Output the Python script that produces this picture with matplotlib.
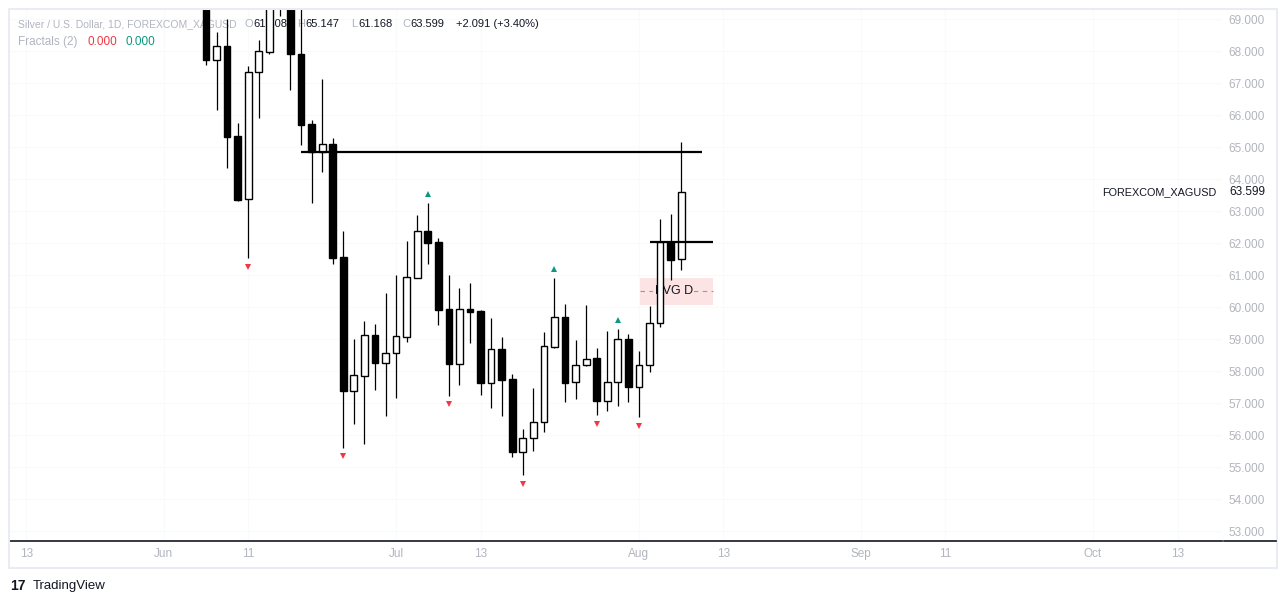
import matplotlib
matplotlib.use("Agg")
import matplotlib.pyplot as plt
from matplotlib.patches import Rectangle
from matplotlib.lines import Line2D
from matplotlib.transforms import ScaledTranslation, blended_transform_factory

# daily OHLC, bar index 0 = first visible candle
opens = [69.8, 67.72, 68.16, 65.34, 63.37, 67.34, 67.97, 69.9, 70.1, 67.9,
         65.72, 64.84, 65.09, 61.56, 57.37, 57.84, 59.12, 58.25, 58.56, 59.06,
         60.91, 62.37, 62.03, 59.94, 58.22, 59.94, 59.87, 57.62, 58.69, 57.75,
         55.47, 55.91, 56.41, 58.75, 59.69, 57.66, 58.19, 58.4, 57.06, 57.66,
         59.0, 57.5, 58.19, 59.5, 62.03, 61.508]
highs = [70.3, 68.6, 69.0, 65.75, 67.53, 68.34, 70.2, 70.8, 70.5, 69.6,
         65.84, 67.12, 65.28, 62.37, 59.0, 59.56, 59.47, 60.44, 61.0, 62.06,
         62.87, 63.25, 62.16, 61.0, 60.59, 60.75, 59.9, 59.66, 59.06, 57.9,
         56.19, 57.47, 59.22, 60.9, 60.09, 58.97, 60.06, 58.72, 59.25, 59.31,
         59.16, 58.62, 60.03, 62.75, 62.9, 65.147]
lows = [67.56, 66.16, 64.34, 63.3, 61.53, 65.9, 67.9, 69.1, 66.78, 65.06,
        63.25, 64.22, 61.34, 55.6, 56.34, 55.72, 57.4, 56.6, 57.16, 58.9,
        60.9, 61.34, 59.44, 57.22, 57.56, 58.87, 57.25, 56.84, 56.59, 55.31,
        54.75, 55.5, 56.09, 58.72, 57.03, 57.12, 58.15, 56.62, 56.75, 56.9,
        57.03, 56.56, 57.97, 59.37, 60.84, 61.168]
closes = [67.72, 68.16, 65.31, 63.34, 67.34, 68.0, 69.8, 70.4, 67.9, 65.69,
          64.84, 65.09, 61.53, 57.37, 57.87, 59.12, 58.25, 58.56, 59.09, 60.94,
          62.37, 62.0, 59.9, 58.22, 59.94, 59.84, 57.62, 58.69, 57.72, 55.47,
          55.91, 56.41, 58.78, 59.69, 57.62, 58.19, 58.37, 57.06, 57.66, 59.0,
          57.5, 58.19, 59.5, 62.03, 61.47, 63.599]

fractal_down = [4, 13, 23, 30, 37, 41]
fractal_up = [21, 33, 39]

# horizontal levels: (price, start bar, end bar)
levels = [(64.84, 9, 47), (62.03, 42, 48)]
fvg_top, fvg_bottom, fvg_start, fvg_end = 60.92, 60.06, 41.1, 48.0

date_ticks = [-17, -4, 4, 18, 26, 41, 49, 62, 70, 84, 92]
date_labels = ["13", "Jun", "11", "Jul", "13", "Aug", "13", "Sep", "11", "Oct", "13"]
price_ticks = list(range(53, 70))

W, H = 1286, 604
GREY = "#b2b5be"
DARK = "#131722"
plt.rcParams['font.family'] = ['Liberation Sans', 'DejaVu Sans']

fig = plt.figure(figsize=(W / 100, H / 100), dpi=100)
fig.patch.set_facecolor("white")
ax = fig.add_axes([10 / W, 1 - 541 / H, (1222 - 10) / W, (541 - 10) / H])
ax.set_xlim((10 - 206) / 10.56, (1222 - 206) / 10.56)
ax.set_ylim(69 - 522 / 32, 69 + 9 / 32)

# very faint grid
for p in price_ticks:
    ax.axhline(p, color="#f9fafc", lw=0.8, zorder=0)
for d in date_ticks:
    ax.axvline(d, color="#f9fafc", lw=0.8, zorder=0)

x = list(range(len(opens)))
ax.vlines(x, lows, highs, color="black", lw=0.9, zorder=3)
bottoms = [min(o, c) for o, c in zip(opens, closes)]
heights = [max(abs(c - o), 0.04) for o, c in zip(opens, closes)]
faces = ["white" if c >= o else "black" for o, c in zip(opens, closes)]
ax.bar(x, heights, bottom=bottoms, width=0.64, color=faces,
       edgecolor="black", linewidth=1.0, zorder=4)

# fractals
down_tr = ax.transData + ScaledTranslation(0, -0.085, fig.dpi_scale_trans)
up_tr = ax.transData + ScaledTranslation(0, 0.095, fig.dpi_scale_trans)
ax.plot(fractal_down, [lows[i] for i in fractal_down], "v", color="#f23645",
        ms=5, mew=0, transform=down_tr, zorder=5)
ax.plot(fractal_up, [highs[i] for i in fractal_up], "^", color="#089981",
        ms=5, mew=0, transform=up_tr, zorder=5)

# levels
for price, x0, x1 in levels:
    ax.hlines(price, x0, x1, color="black", lw=1.6, zorder=6)

# FVG box
ax.add_patch(Rectangle((fvg_start, fvg_bottom), fvg_end - fvg_start,
                       fvg_top - fvg_bottom, facecolor="#fce4e4",
                       edgecolor="none", zorder=1))
fvg_mid = (fvg_top + fvg_bottom) / 2
ax.hlines(fvg_mid, fvg_start, fvg_end, color="#9598a1", lw=0.8,
          linestyles=(0, (4, 4)), zorder=1.5)
ax.text(44.3, fvg_mid, "FVG D", ha="center", va="center", fontsize=9,
        color=DARK, zorder=2,
        bbox=dict(facecolor="#fce4e4", edgecolor="none", pad=1))

# axes styling
for s in ["top", "left", "right"]:
    ax.spines[s].set_visible(False)
ax.spines["bottom"].set_color(DARK)
ax.spines["bottom"].set_linewidth(1.2)
ax.set_xticks(date_ticks)
ax.set_xticklabels(date_labels)
ax.tick_params(axis="x", length=0, pad=5, labelsize=8.5, labelcolor=GREY)
ax.yaxis.tick_right()
ax.set_yticks(price_ticks)
ax.set_yticklabels([f"{p:.3f}" for p in price_ticks])
ax.tick_params(axis="y", length=0, pad=31, labelsize=8.5, labelcolor=GREY)
for lab in ax.get_yticklabels():
    lab.set_horizontalalignment("right")

# last price label
last_tr = blended_transform_factory(ax.transAxes, ax.transData)
ax.text(1.0, closes[-1], f"{closes[-1]:.3f}", ha="right", va="center",
        fontsize=8.5, color=DARK, clip_on=False,
        transform=last_tr + ScaledTranslation(0.43, 0, fig.dpi_scale_trans))
ax.text(1.0, closes[-1], "FOREXCOM_XAGUSD", ha="right", va="center",
        fontsize=7.8, color=DARK, clip_on=False,
        transform=last_tr + ScaledTranslation(-0.06, 0, fig.dpi_scale_trans))


# header, sits behind candles
def ftext(px, py, s, color, size=8):
    ax.text(px / W, 1 - py / H, s, transform=fig.transFigure, color=color,
            fontsize=size, va="center", ha="left", zorder=2, clip_on=False)


ftext(18, 24, "Silver / U.S. Dollar, 1D, FOREXCOM_XAGUSD", GREY, 7.5)
ftext(245, 24, "O", GREY)
ftext(253, 24, "61.508", DARK)
ftext(297, 24, "H", GREY)
ftext(305, 24, "65.147", DARK)
ftext(351, 24, "L", GREY)
ftext(358, 24, "61.168", DARK)
ftext(402, 24, "C", GREY)
ftext(410, 24, "63.599", DARK)
ftext(456, 24, "+2.091 (+3.40%)", DARK)
ftext(18, 42, "Fractals (2)", GREY, 8.5)
ftext(87, 42, "0.000", "#f23645", 8.5)
ftext(125, 42, "0.000", "#089981", 8.5)

# widget frame and scale border
fig.add_artist(Rectangle((9 / W, 1 - 568 / H), (1277 - 9) / W, (568 - 9) / H,
                         transform=fig.transFigure, facecolor="none",
                         edgecolor="#e9ecf2", lw=1.5))
fig.add_artist(Line2D([1224 / W, 1276 / W], [1 - 541 / H, 1 - 541 / H],
                      transform=fig.transFigure, color=DARK, lw=1.2))

# logo
fig.text(10 / W, 1 - 586 / H, "17", fontsize=10, fontweight="heavy",
         color=DARK, va="center", ha="left")
fig.text(33 / W, 1 - 586 / H, "TradingView", fontsize=9.5,
         color=DARK, va="center", ha="left")

fig.savefig("out.png", dpi=100)
